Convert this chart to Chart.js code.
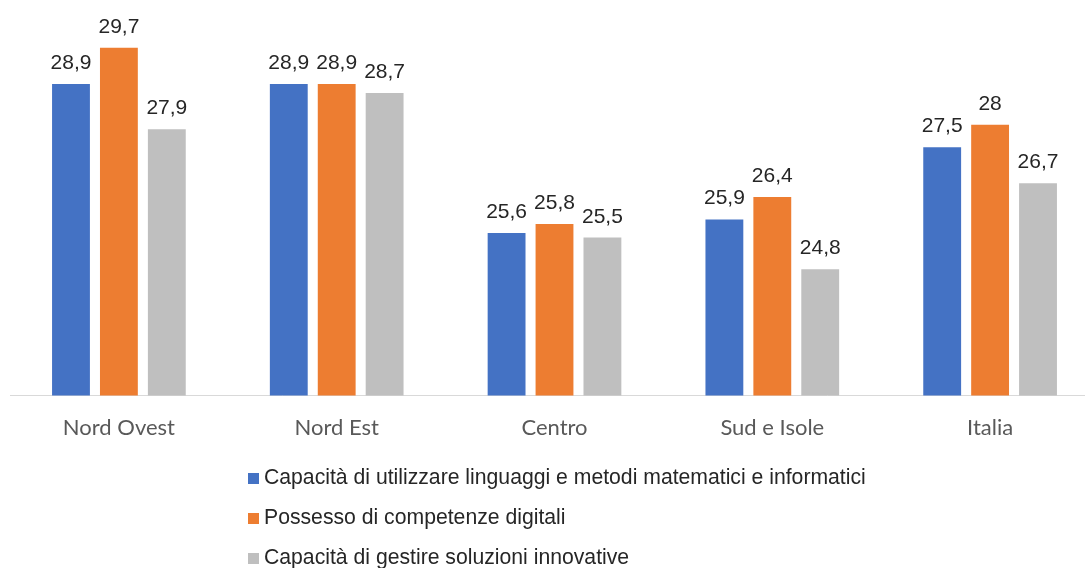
<!DOCTYPE html>
<html>
<head>
<meta charset="utf-8">
<script src="https://cdn.jsdelivr.net/npm/chart.js@4/dist/chart.umd.min.js"></script>
<style>
  html, body { margin: 0; padding: 0; background: #fff; overflow: hidden; width: 1085px; height: 568px; }
  #wrap { position: relative; width: 1085px; height: 568px; }
  canvas { position: absolute; left: 0; top: 0; }
  #legenda { position: absolute; left: 248px; top: 457px; font-family: "Liberation Sans", Arial, sans-serif; font-size: 21.2px; color: #262626; }
  #legenda div { height: 40px; line-height: 40px; white-space: nowrap; }
  #legenda span.box { display: inline-block; width: 11px; height: 11px; margin-right: 5px; vertical-align: 0px; }
</style>
</head>
<body>
<div id="wrap">
  <canvas id="grafico" width="1099" height="463"></canvas>
  <div id="legenda"></div>
</div>
<script>
// --- dati ---
const aree = ['Nord Ovest', 'Nord Est', 'Centro', 'Sud e Isole', 'Italia'];
const serieNomi = [
  'Capacità di utilizzare linguaggi e metodi matematici e informatici',
  'Possesso di competenze digitali',
  'Capacità di gestire soluzioni innovative'
];
const matematiciInformatici = [28.9, 28.9, 25.6, 25.9, 27.5];
const competenzeDigitali    = [29.7, 28.9, 25.8, 26.4, 28];
const soluzioniInnovative   = [27.9, 28.7, 25.5, 24.8, 26.7];
const colori = ['#4472C4', '#ED7D31', '#BFBFBF'];

const fmt = v => String(v).replace('.', ',');

// etichette valore sopra le barre
const etichette = {
  id: 'etichette',
  afterDatasetsDraw(chart) {
    const ctx = chart.ctx;
    ctx.save();
    ctx.font = '21px "Liberation Sans", Arial, sans-serif';
    ctx.fillStyle = '#262626';
    ctx.textAlign = 'center';
    ctx.textBaseline = 'alphabetic';
    chart.data.datasets.forEach((ds, i) => {
      chart.getDatasetMeta(i).data.forEach((bar, j) => {
        ctx.fillText(fmt(ds.data[j]), bar.x, bar.y - 15);
      });
    });
    ctx.restore();
  }
};

const serie = [matematiciInformatici, competenzeDigitali, soluzioniInnovative];

const chart = new Chart(document.getElementById('grafico'), {
  type: 'bar',
  data: {
    labels: aree,
    datasets: serie.map((d, i) => ({
      label: serieNomi[i],
      data: d,
      backgroundColor: colori[i],
      categoryPercentage: 0.66,
      barPercentage: 0.79
    }))
  },
  options: {
    responsive: false,
    animation: false,
    layout: { padding: { left: 10, right: 0, top: 0, bottom: 11 } },
    plugins: { legend: { display: false }, tooltip: { enabled: false } },
    scales: {
      y: { display: false, min: 22, max: 30.76 },
      x: {
        grid: { display: false },
        border: { display: true, color: '#D9D9D9', width: 1 },
        ticks: {
          color: '#595959',
          padding: 11,
          font: { family: 'Lato, sans-serif', size: 22 }
        }
      }
    }
  },
  plugins: [etichette]
});

// legenda verticale
const leg = document.getElementById('legenda');
chart.data.datasets.forEach(ds => {
  const riga = document.createElement('div');
  const box = document.createElement('span');
  box.className = 'box';
  box.style.background = ds.backgroundColor;
  riga.appendChild(box);
  riga.appendChild(document.createTextNode(ds.label));
  leg.appendChild(riga);
});
</script>
</body>
</html>
